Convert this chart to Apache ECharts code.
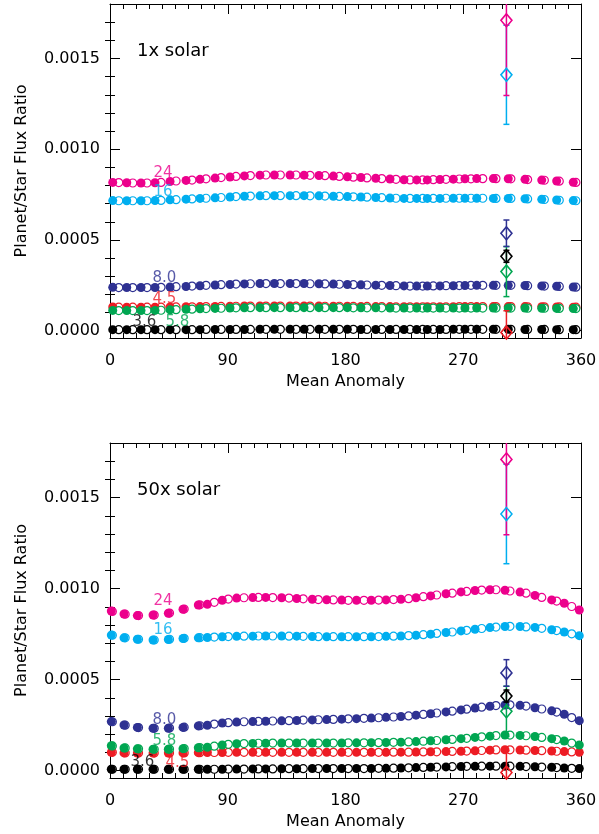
<!DOCTYPE html>
<html>
<head>
<meta charset="utf-8">
<script src="https://cdn.jsdelivr.net/npm/echarts@6/dist/echarts.min.js"></script>
<style>
  html, body { margin: 0; padding: 0; background: #fff; }
  #chart { width: 599px; height: 834px; }
</style>
</head>
<body>
<div id="chart"></div>
<script>
// Planet/star flux ratio vs. mean anomaly for two atmospheric metallicities.
// Flux values are stored in units of 1e-4.
const FLUX_UNIT = 1e-4;

const bands = ['3.6', '4.5', '5.8', '8.0', '16', '24'];

// ---- 1x solar model -------------------------------------------------------
// Sample positions (degrees); marker code per sample: F = filled, O = open
const anomalyTop = [
  2.1, 6.7, 12.8, 17.4, 23.7, 28.3, 34.4, 39.0, 45.9, 50.5,
  58.1, 62.7, 68.8, 73.4, 80.3, 84.9, 91.7, 96.3, 102.7, 107.3,
  114.6, 119.2, 125.6, 130.2, 137.6, 142.2, 148.3, 152.9, 159.7, 164.3,
  170.7, 175.3, 181.4, 186.0, 191.8, 196.4, 203.1, 207.7, 214.0, 218.6,
  224.7, 229.3, 234.4, 239.0, 242.5, 247.1, 252.2, 256.8, 262.4, 267.0,
  271.3, 275.9, 280.3, 284.9, 293.0, 295.0, 304.4, 306.4, 317.2, 319.2,
  330.0, 332.0, 341.4, 343.4, 354.1, 356.1
];
const markerTop =
  'FOFOFOFOFOFOFOFOFOFO' +
  'FOFOFOFOFOFOFOFOFOFO' +
  'FOFOFOFOFOFOFOFOFOFO' +
  'FOFOFO';
const top36 = [
  0.06, 0.06, 0.06, 0.06, 0.06, 0.06, 0.06, 0.06, 0.06, 0.06,
  0.06, 0.06, 0.06, 0.07, 0.07, 0.07, 0.07, 0.07, 0.07, 0.07,
  0.08, 0.08, 0.08, 0.08, 0.08, 0.08, 0.08, 0.08, 0.08, 0.08,
  0.08, 0.08, 0.08, 0.08, 0.07, 0.07, 0.07, 0.07, 0.07, 0.07,
  0.07, 0.07, 0.07, 0.07, 0.07, 0.07, 0.07, 0.07, 0.08, 0.08,
  0.08, 0.08, 0.08, 0.08, 0.08, 0.08, 0.08, 0.08, 0.07, 0.07,
  0.07, 0.07, 0.06, 0.06, 0.06, 0.06
];
const top45 = [
  1.31, 1.30, 1.30, 1.30, 1.30, 1.30, 1.30, 1.30, 1.31, 1.31,
  1.32, 1.32, 1.33, 1.33, 1.34, 1.34, 1.35, 1.35, 1.36, 1.36,
  1.36, 1.36, 1.36, 1.36, 1.36, 1.36, 1.36, 1.36, 1.36, 1.35,
  1.35, 1.35, 1.35, 1.34, 1.34, 1.34, 1.33, 1.33, 1.33, 1.32,
  1.32, 1.32, 1.32, 1.32, 1.32, 1.32, 1.32, 1.32, 1.32, 1.33,
  1.33, 1.33, 1.33, 1.33, 1.33, 1.33, 1.33, 1.33, 1.33, 1.32,
  1.32, 1.32, 1.31, 1.31, 1.30, 1.30
];
const top58 = [
  1.12, 1.11, 1.11, 1.11, 1.11, 1.11, 1.12, 1.13, 1.15, 1.16,
  1.18, 1.19, 1.21, 1.22, 1.23, 1.24, 1.25, 1.26, 1.26, 1.27,
  1.27, 1.27, 1.27, 1.27, 1.27, 1.27, 1.27, 1.27, 1.27, 1.27,
  1.27, 1.27, 1.27, 1.26, 1.26, 1.26, 1.26, 1.26, 1.25, 1.25,
  1.25, 1.25, 1.25, 1.25, 1.25, 1.25, 1.25, 1.25, 1.25, 1.25,
  1.25, 1.25, 1.25, 1.25, 1.25, 1.25, 1.25, 1.25, 1.25, 1.24,
  1.24, 1.24, 1.23, 1.23, 1.22, 1.22
];
const top80 = [
  2.39, 2.38, 2.38, 2.38, 2.38, 2.38, 2.38, 2.39, 2.41, 2.43,
  2.44, 2.46, 2.48, 2.50, 2.52, 2.54, 2.55, 2.57, 2.58, 2.59,
  2.60, 2.60, 2.60, 2.60, 2.60, 2.60, 2.60, 2.59, 2.59, 2.58,
  2.57, 2.56, 2.55, 2.54, 2.53, 2.52, 2.51, 2.50, 2.49, 2.48,
  2.47, 2.46, 2.46, 2.46, 2.46, 2.47, 2.47, 2.48, 2.48, 2.49,
  2.49, 2.50, 2.50, 2.50, 2.50, 2.50, 2.50, 2.50, 2.49, 2.48,
  2.47, 2.46, 2.45, 2.44, 2.41, 2.40
];
const top16 = [
  7.17, 7.16, 7.16, 7.16, 7.16, 7.16, 7.17, 7.18, 7.21, 7.22,
  7.25, 7.26, 7.29, 7.30, 7.32, 7.34, 7.37, 7.39, 7.41, 7.42,
  7.43, 7.44, 7.44, 7.44, 7.44, 7.44, 7.44, 7.43, 7.43, 7.42,
  7.41, 7.40, 7.39, 7.38, 7.37, 7.36, 7.34, 7.33, 7.31, 7.30,
  7.29, 7.29, 7.29, 7.29, 7.29, 7.29, 7.29, 7.30, 7.30, 7.30,
  7.30, 7.30, 7.30, 7.30, 7.29, 7.29, 7.29, 7.29, 7.27, 7.26,
  7.24, 7.23, 7.20, 7.19, 7.17, 7.16
];
const top24 = [
  8.17, 8.16, 8.15, 8.14, 8.14, 8.14, 8.15, 8.17, 8.22, 8.25,
  8.28, 8.30, 8.34, 8.37, 8.41, 8.44, 8.47, 8.50, 8.53, 8.55,
  8.57, 8.58, 8.58, 8.58, 8.58, 8.58, 8.57, 8.56, 8.55, 8.54,
  8.52, 8.50, 8.48, 8.46, 8.44, 8.42, 8.40, 8.38, 8.36, 8.34,
  8.32, 8.31, 8.31, 8.31, 8.31, 8.32, 8.33, 8.34, 8.35, 8.36,
  8.37, 8.37, 8.38, 8.38, 8.38, 8.38, 8.37, 8.37, 8.34, 8.33,
  8.30, 8.29, 8.25, 8.24, 8.18, 8.17
];

// ---- 50x solar model ------------------------------------------------------
const anomalyBottom = [
  1.0, 1.8, 10.7, 11.6, 20.9, 21.8, 32.9, 33.8, 44.6, 45.5,
  55.8, 56.7, 67.5, 68.6, 74.4, 79.7, 85.8, 90.4, 96.8, 102.4,
  109.1, 113.4, 119.0, 124.4, 131.2, 136.8, 142.7, 147.7, 154.6, 159.2,
  165.6, 170.7, 177.1, 182.1, 188.4, 194.1, 199.7, 205.3, 211.0, 216.7,
  222.4, 228.2, 233.9, 239.5, 245.1, 249.7, 256.8, 261.6, 268.3, 272.6,
  279.0, 284.1, 290.4, 295.0, 301.9, 305.7, 313.4, 318.0, 324.8, 330.0,
  337.6, 341.4, 347.2, 352.9, 358.7
];
const markerBottom =
  'FOFOFOFOFOFOFOFOFOFO' +
  'FOFOFOFOFOFOFOFOFOFO' +
  'FOFOFOFOFOFOFOFOFOFO' +
  'FOFOF';
const bottom36 = [
  0.08, 0.08, 0.08, 0.08, 0.08, 0.08, 0.08, 0.08, 0.08, 0.08,
  0.08, 0.08, 0.08, 0.08, 0.08, 0.08, 0.08, 0.09, 0.09, 0.09,
  0.10, 0.10, 0.10, 0.10, 0.11, 0.11, 0.11, 0.11, 0.12, 0.12,
  0.12, 0.12, 0.12, 0.12, 0.12, 0.12, 0.12, 0.13, 0.13, 0.14,
  0.15, 0.16, 0.17, 0.18, 0.19, 0.20, 0.21, 0.22, 0.23, 0.24,
  0.24, 0.25, 0.25, 0.25, 0.25, 0.25, 0.24, 0.23, 0.22, 0.20,
  0.19, 0.17, 0.15, 0.13, 0.12
];
const bottom45 = [
  1.01, 1.01, 0.98, 0.98, 0.97, 0.97, 0.97, 0.97, 0.97, 0.97,
  0.98, 0.98, 0.99, 0.99, 1.00, 1.00, 1.00, 1.01, 1.01, 1.01,
  1.01, 1.01, 1.01, 1.01, 1.01, 1.01, 1.01, 1.01, 1.01, 1.01,
  1.01, 1.01, 1.01, 1.01, 1.01, 1.01, 1.01, 1.01, 1.01, 1.02,
  1.02, 1.02, 1.03, 1.03, 1.04, 1.04, 1.05, 1.06, 1.07, 1.08,
  1.09, 1.11, 1.13, 1.14, 1.15, 1.15, 1.14, 1.13, 1.11, 1.10,
  1.08, 1.07, 1.05, 1.03, 1.01
];
const bottom58 = [
  1.37, 1.36, 1.25, 1.25, 1.20, 1.20, 1.18, 1.18, 1.18, 1.19,
  1.21, 1.22, 1.26, 1.27, 1.29, 1.35, 1.41, 1.45, 1.48, 1.49,
  1.50, 1.51, 1.51, 1.52, 1.52, 1.52, 1.52, 1.52, 1.52, 1.52,
  1.52, 1.52, 1.52, 1.53, 1.53, 1.53, 1.54, 1.54, 1.55, 1.56,
  1.57, 1.58, 1.60, 1.62, 1.64, 1.66, 1.70, 1.72, 1.76, 1.78,
  1.83, 1.86, 1.90, 1.93, 1.96, 1.96, 1.94, 1.92, 1.88, 1.83,
  1.76, 1.71, 1.63, 1.52, 1.41
];
const bottom80 = [
  2.70, 2.69, 2.51, 2.50, 2.38, 2.37, 2.33, 2.33, 2.33, 2.34,
  2.38, 2.39, 2.46, 2.47, 2.50, 2.56, 2.62, 2.64, 2.67, 2.69,
  2.70, 2.71, 2.72, 2.73, 2.74, 2.75, 2.76, 2.78, 2.79, 2.80,
  2.81, 2.82, 2.83, 2.85, 2.86, 2.88, 2.89, 2.91, 2.93, 2.95,
  2.98, 3.01, 3.05, 3.09, 3.13, 3.17, 3.23, 3.27, 3.34, 3.38,
  3.44, 3.49, 3.54, 3.58, 3.61, 3.62, 3.59, 3.55, 3.46, 3.39,
  3.29, 3.22, 3.10, 2.92, 2.75
];
const bottom16 = [
  7.45, 7.44, 7.30, 7.30, 7.22, 7.22, 7.18, 7.18, 7.21, 7.22,
  7.26, 7.27, 7.30, 7.31, 7.32, 7.34, 7.36, 7.37, 7.38, 7.39,
  7.39, 7.40, 7.40, 7.40, 7.40, 7.39, 7.39, 7.38, 7.37, 7.36,
  7.36, 7.36, 7.36, 7.36, 7.36, 7.36, 7.36, 7.37, 7.38, 7.39,
  7.40, 7.42, 7.44, 7.47, 7.50, 7.54, 7.59, 7.62, 7.68, 7.71,
  7.77, 7.81, 7.86, 7.89, 7.92, 7.93, 7.92, 7.90, 7.87, 7.82,
  7.74, 7.70, 7.62, 7.52, 7.42
];
const bottom24 = [
  8.77, 8.75, 8.61, 8.60, 8.52, 8.52, 8.55, 8.55, 8.65, 8.66,
  8.87, 8.88, 9.10, 9.11, 9.14, 9.25, 9.36, 9.43, 9.48, 9.50,
  9.51, 9.52, 9.52, 9.51, 9.50, 9.48, 9.46, 9.44, 9.42, 9.40,
  9.39, 9.38, 9.37, 9.36, 9.36, 9.36, 9.36, 9.37, 9.38, 9.40,
  9.42, 9.45, 9.50, 9.56, 9.60, 9.65, 9.72, 9.75, 9.82, 9.85,
  9.90, 9.92, 9.94, 9.94, 9.91, 9.87, 9.81, 9.75, 9.63, 9.52,
  9.38, 9.32, 9.20, 9.02, 8.83
];

// ---- Measured eclipse depths (same in both panels) ------------------------
const obsAnomaly = 303;
const obsFlux = [4.10, -0.10, 3.26, 5.37, 14.10, 17.10];   // per band
const obsError = [0.33, 1.20, 1.38, 0.73, 2.73, 4.14];

// ---- Axis ticks -------------------------------------------------------------
const yMajorTicks = [0, 0.0005, 0.0010, 0.0015];
const yMinorTicks = [0.0001, 0.0002, 0.0003, 0.0004, 0.0006, 0.0007, 0.0008,
  0.0009, 0.0011, 0.0012, 0.0013, 0.0014, 0.0016, 0.0017];
const panelTitles = ['1x solar', '50x solar'];

// ---- Styling ----------------------------------------------------------------
const FONT = 'DejaVu Sans';
const bandColors = ['#000000', '#ED1C24', '#00A651', '#2E3192', '#00AEEF', '#EC008C'];
const errorDrawOrder = [1, 2, 0, 3, 4, 5];
// band label anchors [mean anomaly, flux/1e-4] for each panel
const bandLabelAnchors = [
  { '24': [32.9, 8.69], '16': [32.9, 7.66], '8.0': [32.1, 2.88],
    '4.5': [32.1, 1.77], '3.6': [16.8, 0.47], '5.8': [42.0, 0.47] },
  { '24': [32.9, 9.34], '16': [32.9, 7.73], '8.0': [32.1, 2.76],
    '5.8': [32.1, 1.63], '3.6': [15.3, 0.50], '4.5': [42.0, 0.41] }
];
const grids = [
  { left: 110, top: 4, width: 471, height: 334 },
  { left: 110, top: 443, width: 471, height: 335 }
];
const Y_MIN = -0.00004, Y_MAX = 0.0018;

const panels = [
  { anomaly: anomalyTop, markers: markerTop,
    flux: [top36, top45, top58, top80, top16, top24] },
  { anomaly: anomalyBottom, markers: markerBottom,
    flux: [bottom36, bottom45, bottom58, bottom80, bottom16, bottom24] }
];

const textBase = { fontFamily: FONT, color: '#000', fontSize: 16 };
const lineBlack = { color: '#000', width: 1 };

const xAxes = [];
const yAxes = [];
grids.forEach((g, gi) => {
  const xBase = {
    type: 'value', gridIndex: gi, min: 0, max: 360, interval: 90,
    axisLine: { show: true, onZero: false, lineStyle: lineBlack },
    axisTick: { show: true, inside: true, length: 10, lineStyle: lineBlack },
    minorTick: { show: true, splitNumber: 9, length: 5, lineStyle: lineBlack },
    splitLine: { show: false }, minorSplitLine: { show: false }
  };
  xAxes.push(Object.assign({}, xBase, {
    position: 'bottom',
    axisLabel: Object.assign({ show: true, margin: 15 }, textBase),
    name: 'Mean Anomaly', nameLocation: 'middle', nameGap: 36,
    nameTextStyle: Object.assign({}, textBase)
  }));
  xAxes.push(Object.assign({}, xBase, { position: 'top', axisLabel: { show: false } }));

  const yBase = {
    type: 'value', gridIndex: gi, min: Y_MIN, max: Y_MAX,
    splitLine: { show: false }
  };
  yAxes.push(Object.assign({}, yBase, {
    position: 'left',
    axisLine: { show: true, onZero: false, lineStyle: lineBlack },
    axisTick: { show: true, inside: true, length: 10, lineStyle: lineBlack, customValues: yMajorTicks },
    axisLabel: Object.assign({ show: true, margin: 10, customValues: yMajorTicks,
      formatter: v => v.toFixed(4) }, textBase),
    name: 'Planet/Star Flux Ratio', nameLocation: 'middle', nameRotate: 90, nameGap: 80,
    nameTextStyle: Object.assign({}, textBase)
  }));
  yAxes.push(Object.assign({}, yBase, {
    position: 'left', axisLine: { show: false }, axisLabel: { show: false },
    axisTick: { show: true, inside: true, length: 5, lineStyle: lineBlack, customValues: yMinorTicks }
  }));
  yAxes.push(Object.assign({}, yBase, {
    position: 'right',
    axisLine: { show: true, onZero: false, lineStyle: lineBlack },
    axisLabel: { show: false },
    axisTick: { show: true, inside: true, length: 10, lineStyle: lineBlack, customValues: yMajorTicks }
  }));
  yAxes.push(Object.assign({}, yBase, {
    position: 'right', axisLine: { show: false }, axisLabel: { show: false },
    axisTick: { show: true, inside: true, length: 5, lineStyle: lineBlack, customValues: yMinorTicks }
  }));
});

const series = [];
panels.forEach((p, pi) => {
  const xIdx = pi * 2, yIdx = pi * 4;
  const pick = (bi, kind) => p.anomaly
    .map((m, i) => (p.markers[i] === kind ? [m, p.flux[bi][i] * FLUX_UNIT] : null))
    .filter(d => d !== null);

  // model curves: open circles first, filled circles on top, for every band
  bands.forEach((b, bi) => {
    const color = bandColors[bi];
    series.push({
      type: 'scatter', name: b + ' um', xAxisIndex: xIdx, yAxisIndex: yIdx,
      data: pick(bi, 'O'), symbol: 'circle', symbolSize: 8,
      itemStyle: { color: '#fff', borderColor: color, borderWidth: 1.2, opacity: 1 }, silent: true
    });
    series.push({
      type: 'scatter', name: b + ' um', xAxisIndex: xIdx, yAxisIndex: yIdx,
      data: pick(bi, 'F'), symbol: 'circle', symbolSize: 9,
      itemStyle: { color: color, opacity: 1 }, silent: true
    });
  });

  // measurements with error bars
  errorDrawOrder.forEach(bi => {
    const color = bandColors[bi];
    series.push({
      type: 'custom', xAxisIndex: xIdx, yAxisIndex: yIdx, clip: true, silent: true, z: 3,
      encode: { x: 0, y: 1 },
      data: [[obsAnomaly, obsFlux[bi] * FLUX_UNIT, obsError[bi] * FLUX_UNIT]],
      renderItem: (params, api) => {
        const x = api.value(0), y = api.value(1), e = api.value(2);
        const hi = api.coord([x, y + e]);
        const lo = api.coord([x, y - e]);
        const cap = 3;
        const style = { stroke: color, lineWidth: 1.5, fill: null };
        return {
          type: 'group', children: [
            { type: 'line', shape: { x1: hi[0], y1: hi[1], x2: lo[0], y2: lo[1] }, style: style },
            { type: 'line', shape: { x1: hi[0] - cap, y1: hi[1], x2: hi[0] + cap, y2: hi[1] }, style: style },
            { type: 'line', shape: { x1: lo[0] - cap, y1: lo[1], x2: lo[0] + cap, y2: lo[1] }, style: style }
          ]
        };
      }
    });
    series.push({
      type: 'scatter', xAxisIndex: xIdx, yAxisIndex: yIdx, silent: true, z: 4,
      data: [[obsAnomaly, obsFlux[bi] * FLUX_UNIT]],
      symbol: 'diamond', symbolSize: [11, 13],
      itemStyle: { color: 'rgba(0,0,0,0)', borderColor: color, borderWidth: 1.6, opacity: 1 }
    });
  });

  // band labels
  series.push({
    type: 'scatter', xAxisIndex: xIdx, yAxisIndex: yIdx, silent: true, z: 6,
    symbolSize: 1, itemStyle: { color: 'rgba(0,0,0,0)' },
    data: bands.map((b, bi) => ({
      name: b,
      value: [bandLabelAnchors[pi][b][0], bandLabelAnchors[pi][b][1] * FLUX_UNIT],
      label: { color: bandColors[bi] }
    })),
    label: {
      show: true, position: 'right', distance: 0, formatter: '{b}',
      fontFamily: FONT, fontSize: 15, align: 'left', verticalAlign: 'middle'
    }
  });
});

const chart = echarts.init(document.getElementById('chart'), null, { renderer: 'canvas' });
chart.setOption({
  backgroundColor: '#fff',
  animation: false,
  title: panelTitles.map((t, i) => ({
    text: t, left: 137, top: i === 0 ? 42 : 481, padding: 0,
    textStyle: { fontFamily: FONT, fontSize: 18, fontWeight: 'normal', color: '#000' }
  })),
  grid: grids.map(g => Object.assign({ outerBoundsMode: 'none', containLabel: false }, g)),
  xAxis: xAxes,
  yAxis: yAxes,
  series: series
});
</script>
</body>
</html>
